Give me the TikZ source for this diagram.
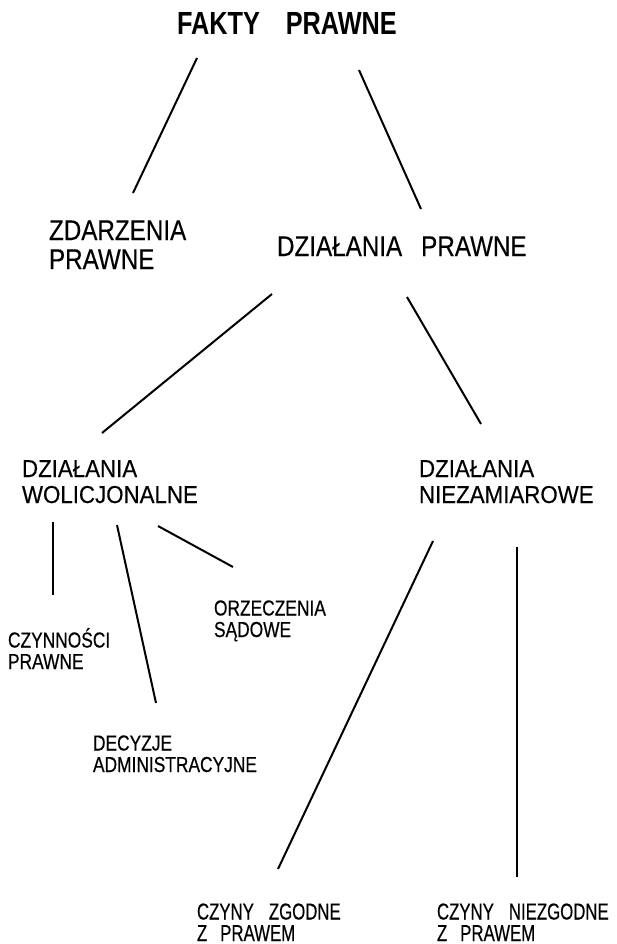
\documentclass[tikz,border=0pt]{standalone}
\usepackage{fontspec}
\setmainfont{Liberation Sans}
\newfontfamily\fTitle{Liberation Sans}[FakeStretch=0.79]
\newfontfamily\fTwo{Liberation Sans}[FakeStretch=0.85,FakeBold=0.3]
\newfontfamily\fThree{Liberation Sans}[FakeStretch=0.91,FakeBold=0.3]
\newfontfamily\fFour{Liberation Sans}[FakeStretch=0.80,FakeBold=0.5]
\newfontfamily\fFive{Liberation Sans}[FakeStretch=0.73,FakeBold=0.4]
\begin{document}
\begin{tikzpicture}[x=1pt,y=-1pt,
  lbl/.style={anchor=base west,inner sep=0pt,outer sep=0pt,align=left,text=black},
  title/.style={lbl,font={\fTitle\bfseries\fontsize{32}{34}\selectfont}},
  lvtwo/.style={lbl,font={\fTwo\fontsize{28.5}{29}\selectfont}},
  lvthree/.style={lbl,font={\fThree\fontsize{24.5}{26}\selectfont}},
  lvfour/.style={lbl,font={\fFour\fontsize{21.7}{21.5}\selectfont}},
  lvfive/.style={lbl,font={\fFive\fontsize{23}{21.5}\selectfont}},
  conn/.style={draw=black,line width=2pt}]
\useasboundingbox (0,0) rectangle (616,944);
% nodes (anchor = baseline of the last line)
\node[title]  (fakty) at (177,35) {FAKTY\hspace{26pt}PRAWNE};
\node[lvtwo]  (zdarz) at (49,269) {ZDARZENIA\\PRAWNE};
\node[lvtwo]  (dzpr)  at (277,256) {DZIAŁANIA\hspace{19pt}PRAWNE};
\node[lvthree] (wol)  at (22,503) {DZIAŁANIA\\WOLICJONALNE};
\node[lvthree] (niez) at (419,503) {DZIAŁANIA\\NIEZAMIAROWE};
\node[lvfour] (czynn) at (8,669) {CZYNNOŚCI\\PRAWNE};
\node[lvfour] (orz)   at (214,637) {ORZECZENIA\\SĄDOWE};
\node[lvfour] (dec)   at (93,772) {DECYZJE\\ADMINISTRACYJNE};
\node[lvfive] (zgod)  at (197,941) {CZYNY\hspace{15pt}ZGODNE\\Z\hspace{13pt}PRAWEM};
\node[lvfive] (niezg) at (437,941) {CZYNY\hspace{15pt}NIEZGODNE\\Z\hspace{13pt}PRAWEM};
% connector ends
\coordinate (faktyL) at (197,58);   \coordinate (zdarzT) at (133,193);
\coordinate (faktyR) at (359,70);   \coordinate (dzprT)  at (421,209);
\coordinate (dzprL)  at (272,294);  \coordinate (wolT)   at (102,433);
\coordinate (dzprR)  at (407,297);  \coordinate (niezT)  at (481,424);
\coordinate (wolA)   at (53,522);   \coordinate (czynnT) at (53,595);
\coordinate (wolB)   at (117,525);  \coordinate (decT)   at (156,703);
\coordinate (wolC)   at (158,526);  \coordinate (orzT)   at (233,567);
\coordinate (niezA)  at (433,541);  \coordinate (zgodT)  at (278,869);
\coordinate (niezB)  at (517,547);  \coordinate (niezgT) at (517,877);
% connectors
\draw[conn] (faktyL) -- (zdarzT);
\draw[conn] (faktyR) -- (dzprT);
\draw[conn] (dzprL) -- (wolT);
\draw[conn] (dzprR) -- (niezT);
\draw[conn] (wolA) -- (czynnT);
\draw[conn] (wolB) -- (decT);
\draw[conn] (wolC) -- (orzT);
\draw[conn] (niezA) -- (zgodT);
\draw[conn] (niezB) -- (niezgT);
\end{tikzpicture}
\end{document}
